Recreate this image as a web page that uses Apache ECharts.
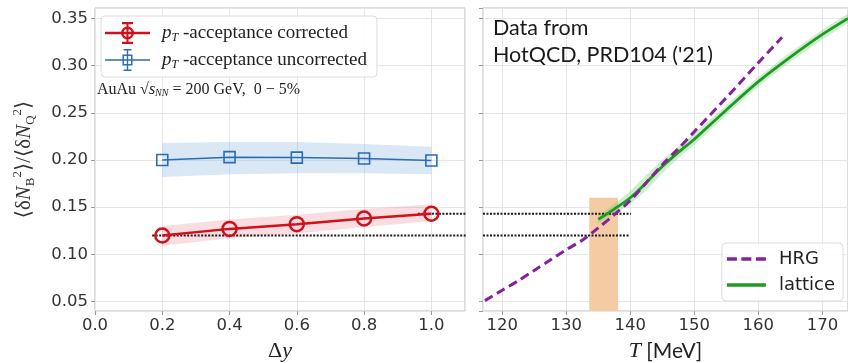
<!DOCTYPE html>
<html>
<head>
<meta charset="utf-8">
<script src="https://cdn.jsdelivr.net/npm/echarts@6/dist/echarts.min.js"></script>
<style>
  html, body { margin: 0; padding: 0; background: #fff; }
  #chart { width: 848px; height: 363px; }
</style>
</head>
<body>
<div id="chart"></div>
<script>
// ---- left panel: rapidity window scan ----
const dyValues = [0.2, 0.4, 0.6, 0.8, 1.0];
const correctedVals = [0.120, 0.127, 0.132, 0.138, 0.143];
const correctedLow = [0.109, 0.117, 0.122, 0.129, 0.135];
const correctedHigh = [0.130, 0.137, 0.142, 0.148, 0.153];
const uncorrectedVals = [0.200, 0.203, 0.2025, 0.2015, 0.1995];
const uncorrectedLow = [0.182, 0.185, 0.186, 0.186, 0.185];
const uncorrectedHigh = [0.218, 0.219, 0.219, 0.217, 0.214];

// ---- right panel: temperature dependence ----
const hrgT = [117.3, 120, 122.5, 125, 127.5, 130, 132.5, 135, 137.5, 140, 142.5, 145, 147.5, 150, 155, 160, 163.7];
const hrgVals = [0.051, 0.062, 0.072, 0.083, 0.094, 0.105, 0.115, 0.128, 0.142, 0.157, 0.176, 0.195, 0.212, 0.230, 0.266, 0.303, 0.330];
const latticeT = [135, 137.5, 140, 142.5, 145, 147.5, 150, 155, 160, 165, 170, 174];
const latticeVals = [0.137, 0.148, 0.160, 0.176, 0.193, 0.208, 0.222, 0.253, 0.283, 0.309, 0.333, 0.350];
const latticeErr = [0.004, 0.005, 0.007, 0.008, 0.007, 0.006, 0.006, 0.005, 0.005, 0.005, 0.005, 0.005];

// read-off guides (dotted) and the extracted temperature band
const guideLevels = [0.143, 0.120];
const guideLeftDy = [[0.96, 1.154], [0.17, 1.154]];
const guideRightT = [[117, 140.1], [117, 139.8]];
const tcBand = [133.6, 138.1];
const tcBandY = [0.04, 0.16];

const RED = '#d0101a';
const BLUE = '#2a6db0';
const GREEN = '#1f9a22';
const PURPLE = '#84229a';
const SERIF = 'Liberation Serif, DejaVu Serif, serif';
const SANS = 'DejaVu Sans, sans-serif';

const zip = (xs, ys) => xs.map((x, i) => [x, ys[i]]);

// legend icons: marker with error bar, 45x22 box
const circIcon = 'path://M0,9.8 L45,9.8 L45,12.2 L0,12.2 Z ' +
  'M16,11 A6.5,6.5 0 1,1 29,11 A6.5,6.5 0 1,1 16,11 Z M18.5,11 A4,4 0 1,0 26.5,11 A4,4 0 1,0 18.5,11 Z ' +
  'M21.5,0 L23.5,0 L23.5,22 L21.5,22 Z M17,0 L28,0 L28,2.2 L17,2.2 Z M17,19.8 L28,19.8 L28,22 L17,22 Z';
const sqIcon = 'path://M0,10.3 L45,10.3 L45,11.7 L0,11.7 Z ' +
  'M17.5,5.5 L27.5,5.5 L27.5,16.5 L17.5,16.5 Z M26,7 L19,7 L19,15 L26,15 Z ' +
  'M21.8,0 L23.2,0 L23.2,22 L21.8,22 Z M18.5,0 L26.5,0 L26.5,1.5 L18.5,1.5 Z M18.5,20.5 L26.5,20.5 L26.5,22 L18.5,22 Z';
// legend line icons, 39x3.5 box
const dashIcon = 'path://M0,0 L10,0 L10,3.5 L0,3.5 Z M14.5,0 L24.5,0 L24.5,3.5 L14.5,3.5 Z M29,0 L39,0 L39,3.5 L29,3.5 Z';
const solidIcon = 'path://M0,0 L39,0 L39,3.5 L0,3.5 Z';

const chart = echarts.init(document.getElementById('chart'));

// shaded uncertainty band drawn as one polygon through the axis scales
function band(name, xs, lo, hi, xi, color) {
  return {
    name: name, type: 'custom', xAxisIndex: xi, yAxisIndex: xi, silent: true, z: 1,
    data: xs.map((x, i) => [x, lo[i], hi[i]]),
    encode: { x: 0, y: [1, 2] },
    renderItem: function (params, api) {
      if (params.dataIndex !== 0) return;
      const top = xs.map((x, i) => api.coord([x, hi[i]]));
      const bot = xs.map((x, i) => api.coord([x, lo[i]])).reverse();
      return { type: 'polygon', shape: { points: top.concat(bot) }, style: { fill: color } };
    }
  };
}

const yAxisBase = {
  type: 'value', min: 0.04, max: 0.361,
  axisLine: { show: false },
  axisTick: { show: true, length: 4, lineStyle: { color: '#999' } },
  splitLine: { lineStyle: { color: '#e6e6e6' } },
  axisLabel: {
    showMinLabel: false, showMaxLabel: false, fontFamily: SANS, fontSize: 16.5, color: '#333', margin: 7,
    formatter: v => (Math.abs(v * 20 - Math.round(v * 20)) < 1e-6 ? v.toFixed(2) : '')
  }
};

const guideStyle = { color: '#1a1a1a', width: 2, type: [2, 1.5] };

const series = [
  band('uncBand', dyValues, uncorrectedLow, uncorrectedHigh, 0, 'rgba(140,180,225,0.32)'),
  band('corBand', dyValues, correctedLow, correctedHigh, 0, 'rgba(235,120,135,0.25)'),
  band('latBand', latticeT, latticeVals.map((v, i) => v - latticeErr[i]), latticeVals.map((v, i) => v + latticeErr[i]), 1, 'rgba(110,205,110,0.35)'),
  {
    name: 'uncorrected', type: 'line', xAxisIndex: 0, yAxisIndex: 0, z: 4,
    data: zip(dyValues, uncorrectedVals), symbol: 'rect', symbolSize: 11,
    itemStyle: { color: 'rgba(0,0,0,0)', borderColor: BLUE, borderWidth: 1.6 },
    lineStyle: { color: BLUE, width: 1.5 }
  },
  {
    name: 'corrected', type: 'line', xAxisIndex: 0, yAxisIndex: 0, z: 5,
    data: zip(dyValues, correctedVals), symbol: 'circle', symbolSize: 14,
    itemStyle: { color: 'rgba(0,0,0,0)', borderColor: RED, borderWidth: 2.5 },
    lineStyle: { color: RED, width: 2.5 }
  },
  {
    name: 'tcBand', type: 'line', xAxisIndex: 1, yAxisIndex: 1, data: [], z: 2, silent: true,
    markArea: {
      silent: true, itemStyle: { color: '#f4cba2' },
      data: [[{ coord: [tcBand[0], tcBandY[0]] }, { coord: [tcBand[1], tcBandY[1]] }]]
    }
  },
  {
    name: 'lattice', type: 'line', xAxisIndex: 1, yAxisIndex: 1, z: 4,
    data: zip(latticeT, latticeVals), symbol: 'none', smooth: 0.3,
    lineStyle: { color: GREEN, width: 2.8 }, itemStyle: { color: GREEN }
  },
  {
    name: 'HRG', type: 'line', xAxisIndex: 1, yAxisIndex: 1, z: 5,
    data: zip(hrgT, hrgVals), symbol: 'none', smooth: 0.3,
    lineStyle: { color: PURPLE, width: 3, type: [9, 5] }, itemStyle: { color: PURPLE }
  }
];

guideLevels.forEach((lvl, i) => {
  series.push({
    name: 'guideL' + i, type: 'line', xAxisIndex: 0, yAxisIndex: 0, z: 3, clip: false, silent: true,
    data: guideLeftDy[i].map(x => [x, lvl]), symbol: 'none', lineStyle: guideStyle
  });
  series.push({
    name: 'guideR' + i, type: 'line', xAxisIndex: 1, yAxisIndex: 1, z: 3, silent: true,
    data: guideRightT[i].map(x => [x, lvl]), symbol: 'none', lineStyle: guideStyle
  });
});

const option = {
  animation: false,
  backgroundColor: '#fff',
  grid: [
    { left: 95, top: 8, width: 370, height: 303, show: true, borderColor: '#b8b8b8', borderWidth: 1, outerBoundsMode: 'none' },
    { left: 483, top: 8, width: 365, height: 303, show: true, borderColor: '#b8b8b8', borderWidth: 1, outerBoundsMode: 'none' }
  ],
  xAxis: [{
    type: 'value', gridIndex: 0, min: 0, max: 1.1,
    axisLine: { show: false },
    axisTick: { show: true, length: 4, lineStyle: { color: '#999' } },
    splitLine: { lineStyle: { color: '#e6e6e6' } },
    axisLabel: { showMaxLabel: false, fontFamily: SANS, fontSize: 16.5, color: '#333', margin: 6, formatter: v => v.toFixed(1) },
    name: '{d|Δ}{y|y}', nameLocation: 'middle', nameGap: 29,
    nameTextStyle: { rich: { d: { fontFamily: SERIF, fontSize: 22, color: '#222' }, y: { fontFamily: SERIF, fontStyle: 'italic', fontSize: 22, color: '#222' } } }
  }, {
    type: 'value', gridIndex: 1, min: 117, max: 174,
    axisLine: { show: false },
    axisTick: { show: true, length: 4, lineStyle: { color: '#999' } },
    splitLine: { lineStyle: { color: '#e6e6e6' } },
    axisLabel: { showMinLabel: false, showMaxLabel: false, fontFamily: SANS, fontSize: 16.5, color: '#333', margin: 6 },
    name: '{t|T}{u| [MeV]}', nameLocation: 'middle', nameGap: 29,
    nameTextStyle: { rich: { t: { fontFamily: SERIF, fontStyle: 'italic', fontSize: 22, color: '#222' }, u: { fontFamily: 'Lato, sans-serif', fontSize: 21, color: '#222' } } }
  }],
  yAxis: [Object.assign({}, yAxisBase, {
    gridIndex: 0,
    name: '{t|⟨δ}{n|N}{b|B}{s|2}{t|⟩/⟨δ}{n|N}{b|Q}{s|2}{t|⟩}',
    nameLocation: 'middle', nameRotate: 90, nameGap: 58,
    nameTextStyle: {
      rich: {
        t: { fontFamily: SERIF, fontSize: 21, color: '#333', lineHeight: 26 },
        n: { fontFamily: SERIF, fontStyle: 'italic', fontSize: 21, color: '#333', lineHeight: 26 },
        b: { fontFamily: SERIF, fontSize: 13, color: '#333', lineHeight: 13, verticalAlign: 'bottom' },
        s: { fontFamily: SERIF, fontSize: 13, color: '#333', lineHeight: 13, verticalAlign: 'top' }
      }
    }
  }), Object.assign({}, yAxisBase, {
    gridIndex: 1,
    axisLabel: { show: false }
  })],
  legend: [{
    data: [
      { name: 'corrected', icon: circIcon, itemStyle: { color: RED, borderWidth: 0 } },
      { name: 'uncorrected', icon: sqIcon, itemStyle: { color: BLUE, borderWidth: 0 } }
    ],
    orient: 'vertical', left: 101, top: 16, itemWidth: 45, itemHeight: 22, itemGap: 5,
    padding: [6, 10, 6, 4], backgroundColor: 'rgba(255,255,255,0.85)',
    borderColor: '#dcdcdc', borderWidth: 1, borderRadius: 4, selectedMode: false,
    formatter: n => '{i|p}{s|T}{r| -acceptance ' + n + '}',
    textStyle: {
      padding: [0, 0, 0, 7],
      rich: {
        i: { fontFamily: SERIF, fontStyle: 'italic', fontSize: 19, color: '#222', lineHeight: 22 },
        s: { fontFamily: SERIF, fontStyle: 'italic', fontSize: 12, color: '#222', lineHeight: 12, verticalAlign: 'bottom' },
        r: { fontFamily: SERIF, fontSize: 19, color: '#222', lineHeight: 22 }
      }
    }
  }, {
    data: [
      { name: 'HRG', icon: dashIcon, itemStyle: { color: PURPLE, borderWidth: 0 } },
      { name: 'lattice', icon: solidIcon, itemStyle: { color: GREEN, borderWidth: 0 } }
    ],
    orient: 'vertical', right: 5, top: 243, itemWidth: 39, itemHeight: 3.5, itemGap: 6,
    padding: [6, 8, 6, 5], backgroundColor: 'rgba(255,255,255,0.85)',
    borderColor: '#dcdcdc', borderWidth: 1, borderRadius: 4, selectedMode: false,
    textStyle: { fontFamily: SANS, fontSize: 18, lineHeight: 20, color: '#222', padding: [0, 0, 0, 8] }
  }],
  graphic: [{
    type: 'text', left: 97, top: 82, silent: true, z: 100,
    style: {
      text: '{r|AuAu }{r|√}{i|s}{b|NN}{r| = 200 GeV,  0 − 5%}',
      rich: {
        r: { fontFamily: SERIF, fontSize: 16, fill: '#222' },
        i: { fontFamily: SERIF, fontStyle: 'italic', fontSize: 16, fill: '#222' },
        b: { fontFamily: SERIF, fontStyle: 'italic', fontSize: 10, fill: '#222', verticalAlign: 'bottom', lineHeight: 10 }
      }
    }
  }, {
    type: 'text', left: 493, top: 15, silent: true, z: 100,
    style: {
      text: "Data from\nHotQCD, PRD104 ('21)",
      fontFamily: 'Lato, sans-serif', fontSize: 21.5, lineHeight: 27, fill: '#1a1a1a'
    }
  }],
  series: series
};

chart.setOption(option);
</script>
</body>
</html>
